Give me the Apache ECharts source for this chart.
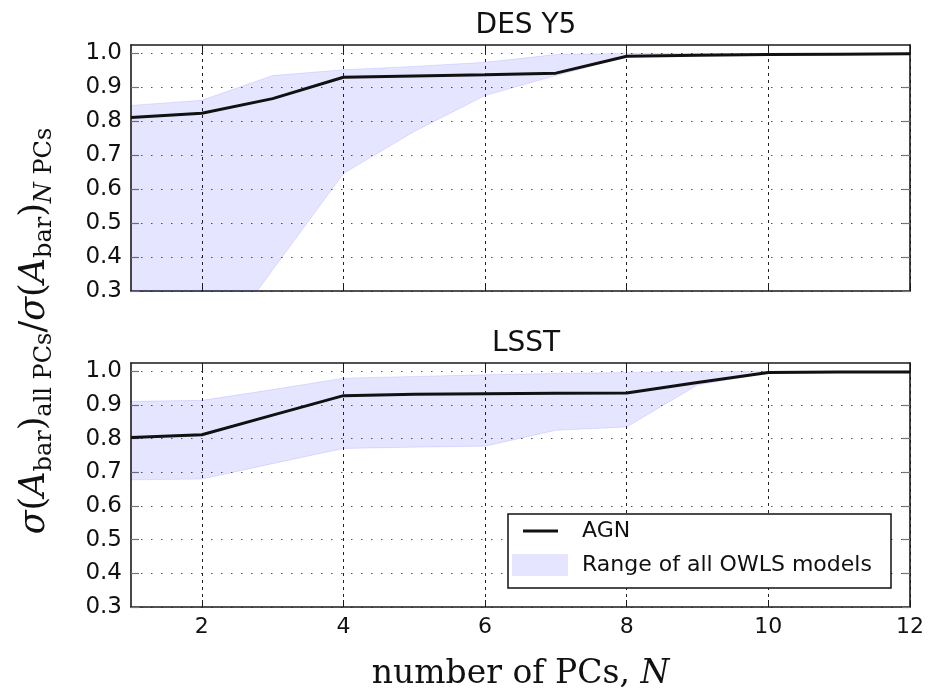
<!DOCTYPE html>
<html><head><meta charset="utf-8">
<script src="https://cdn.jsdelivr.net/npm/echarts@6/dist/echarts.min.js"></script>
<style>html,body{margin:0;padding:0;background:#fff}#c{width:932px;height:692px}</style>
</head><body><div id="c"></div>
<script>
// ---- data ----
const nPCs = [1, 2, 3, 4, 5, 6, 7, 8, 9, 10, 11, 12];
const desAGN   = [0.811, 0.824, 0.867, 0.930, 0.934, 0.937, 0.942, 0.992, 0.995, 0.997, 0.998, 0.999];
const desLower = [0.080, 0.080, 0.362, 0.646, 0.770, 0.876, 0.935, 0.990, 0.994, 0.996, 0.997, 0.998];
const desUpper = [0.847, 0.862, 0.935, 0.952, 0.962, 0.974, 0.997, 1.000, 1.000, 1.000, 1.000, 1.000];
const lsstAGN   = [0.804, 0.812, 0.870, 0.928, 0.932, 0.934, 0.935, 0.936, 0.967, 0.997, 0.998, 0.998];
const lsstLower = [0.678, 0.680, 0.726, 0.771, 0.775, 0.778, 0.825, 0.835, 0.960, 0.996, 0.997, 0.997];
const lsstUpper = [0.911, 0.914, 0.946, 0.980, 0.985, 0.990, 0.994, 0.997, 1.000, 1.000, 1.000, 1.000];
const xTicks = [2, 4, 6, 8, 10, 12];
const yTicks = [0.3, 0.4, 0.5, 0.6, 0.7, 0.8, 0.9, 1.0];
const panelTitles = ['DES Y5', 'LSST'];
const legendNames = ['AGN', 'Range of all OWLS models'];

// ---- styles ----
const bandFill = 'rgba(0,0,255,0.1)';
const frameColor = '#1a1a1a';
const SANS = 'DejaVu Sans';
const SERIF = 'DejaVu Serif';

const chart = echarts.init(document.getElementById('c'), null, {renderer: 'canvas'});

const panels = [
  {agn: desAGN, lower: desLower, upper: desUpper, top: 45, height: 246},
  {agn: lsstAGN, lower: lsstLower, upper: lsstUpper, top: 363, height: 245}
];
const cats = nPCs.map(String);
const onTick = (idx, val) => xTicks.indexOf(Number(val)) >= 0;

const grids = [], xAxes = [], yAxes = [], series = [];
panels.forEach((p, i) => {
  grids.push({left: 131, right: 22, top: p.top, height: p.height, containLabel: false});
  const xBase = {
    type: 'category', gridIndex: i, data: cats, boundaryGap: false,
    axisLine: {show: true, onZero: false, lineStyle: {color: frameColor, width: 1.6}},
    axisTick: {show: true, inside: true, length: 7, interval: onTick, lineStyle: {color: frameColor, width: 1}},
    splitLine: {show: false}
  };
  xAxes.push(Object.assign({}, xBase, {
    position: 'bottom',
    axisLabel: {show: i === 1, interval: onTick, margin: 9, color: '#111', fontFamily: SANS, fontSize: 22},
    splitLine: {show: true, interval: onTick, lineStyle: {color: '#222', width: 1, type: [3, 4]}},
    name: i === 1 ? '{t|number of PCs, }{n|N}' : '',
    nameLocation: 'middle', nameGap: 51,
    nameTextStyle: {rich: {
      t: {fontFamily: SERIF, fontSize: 33, color: '#111'},
      n: {fontFamily: SERIF, fontStyle: 'italic', fontSize: 33, color: '#111'}
    }}
  }));
  xAxes.push(Object.assign({}, xBase, {position: 'top', axisLabel: {show: false}}));
  const yBase = {
    type: 'value', gridIndex: i, min: 0.3, max: 1.025,
    axisLine: {show: true, onZero: false, lineStyle: {color: frameColor, width: 1.6}},
    axisTick: {show: true, inside: true, length: 8, customValues: yTicks, lineStyle: {color: '#777', width: 1.2}},
    splitLine: {show: false}
  };
  yAxes.push(Object.assign({}, yBase, {
    position: 'left',
    axisLabel: {show: true, customValues: yTicks, margin: 9, color: '#111', fontFamily: SANS, fontSize: 23,
      formatter: v => v.toFixed(1)},
    splitLine: {show: true, lineStyle: {color: '#555', width: 1, type: [1.5, 8.5]}}
  }));
  yAxes.push(Object.assign({}, yBase, {position: 'right', axisLabel: {show: false}}));

  const stackId = 'band' + i;
  series.push({
    type: 'line', name: 'lower' + i, xAxisIndex: 2 * i, yAxisIndex: 2 * i,
    stack: stackId, stackStrategy: 'all', symbol: 'none', silent: true, clip: true,
    color: bandFill,
    lineStyle: {color: bandFill, width: 1},
    data: p.lower.slice(),
    z: 1
  });
  series.push({
    type: 'line', name: legendNames[1], xAxisIndex: 2 * i, yAxisIndex: 2 * i,
    stack: stackId, stackStrategy: 'all', symbol: 'none', silent: true, clip: true,
    color: bandFill,
    lineStyle: {color: bandFill, width: 1},
    areaStyle: {color: bandFill, opacity: 1},
    data: p.upper.map((u, k) => +(u - p.lower[k]).toFixed(4)),
    z: 1
  });
  series.push({
    type: 'line', name: legendNames[0], xAxisIndex: 2 * i, yAxisIndex: 2 * i,
    symbol: 'none', silent: true, clip: true,
    color: '#111',
    lineStyle: {color: '#111', width: 3},
    data: p.agn.slice(),
    z: 3
  });
});

const option = {
  backgroundColor: '#fff',
  animation: false,
  title: [
    {text: panelTitles[0], left: 521, top: 7, textAlign: 'center',
      textStyle: {fontFamily: SANS, fontSize: 28, fontWeight: 'normal', color: '#111'}},
    {text: panelTitles[1], left: 521, top: 325, textAlign: 'center',
      textStyle: {fontFamily: SANS, fontSize: 28, fontWeight: 'normal', color: '#111'}}
  ],
  grid: grids,
  xAxis: xAxes,
  yAxis: yAxes,
  legend: [
    {data: [{name: legendNames[0], icon: 'rect'}], left: 523, top: 520, orient: 'vertical',
      padding: 0, itemWidth: 35, itemHeight: 3, z: 20,
      itemStyle: {color: '#111'},
      textStyle: {fontFamily: SANS, fontSize: 22, color: '#111', padding: [0, 0, 0, 19]}},
    {data: [{name: legendNames[1], icon: 'rect'}], left: 512, top: 554, orient: 'vertical',
      padding: 0, itemWidth: 56, itemHeight: 22, z: 20,
      itemStyle: {color: bandFill},
      textStyle: {fontFamily: SANS, fontSize: 22, color: '#111', padding: [0, 0, 0, 9]}}
  ],
  graphic: [
    {type: 'rect', z: 10, shape: {x: 508, y: 514, width: 383, height: 74},
      style: {fill: '#fff', stroke: '#111', lineWidth: 1.5}},
    {type: 'text', z: 10, x: 35, y: 331, rotation: Math.PI / 2,
      style: {
        text: '{i|σ}{m|(}{i|A}{s|bar}{m|)}{s|all PCs}{m|/}{i|σ}{m|(}{i|A}{s|bar}{m|)}{si|N}{s| PCs}',
        align: 'center', verticalAlign: 'middle', fill: '#111',
        rich: {
          i: {fontFamily: SERIF, fontStyle: 'italic', fontSize: 35, lineHeight: 44, fill: '#111'},
          m: {fontFamily: SERIF, fontSize: 35, lineHeight: 44, fill: '#111'},
          s: {fontFamily: SERIF, fontSize: 24, lineHeight: 24, verticalAlign: 'bottom', fill: '#111'},
          si: {fontFamily: SERIF, fontStyle: 'italic', fontSize: 24, lineHeight: 24, verticalAlign: 'bottom', fill: '#111'}
        }
      }}
  ],
  series: series
};
chart.setOption(option);
</script>
</body></html>
